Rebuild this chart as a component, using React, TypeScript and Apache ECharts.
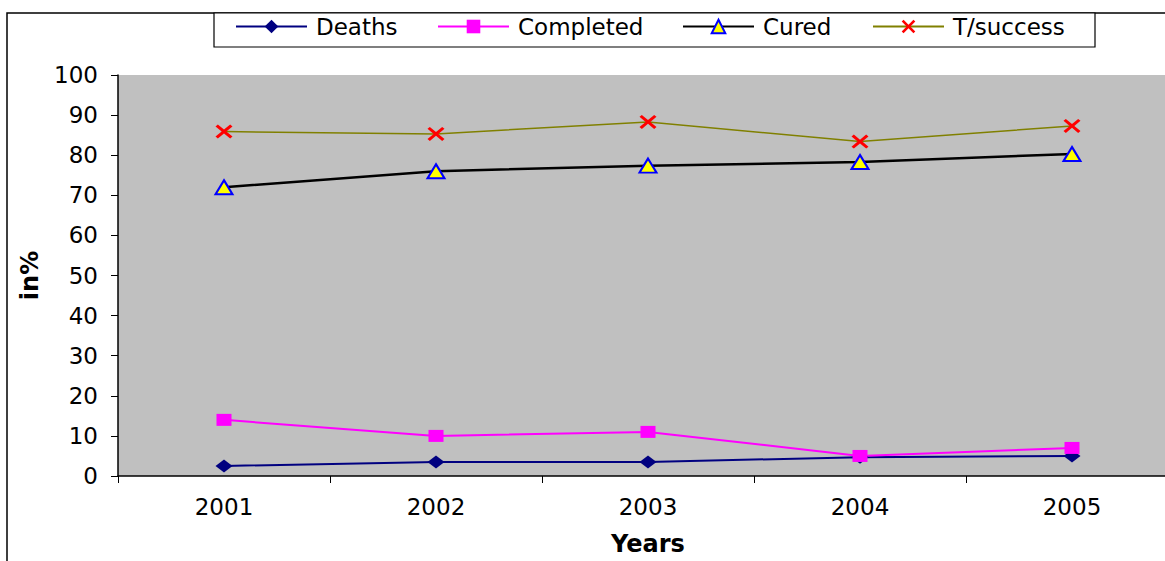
import React, { useEffect, useRef } from "react";
import * as echarts from "echarts";

const years = ["2001", "2002", "2003", "2004", "2005"];
const deaths = [2.5, 3.5, 3.5, 4.7, 5.0];
const completed = [14, 10, 11, 5, 7];
const cured = [72, 76, 77.4, 78.3, 80.3];
const tsuccess = [85.9, 85.3, 88.3, 83.4, 87.3];
const seriesNames = ["Deaths", "Completed", "Cured", "T/success"];
const legendLefts = [235, 437, 682, 872];

const FONT = "DejaVu Sans";
const CROSS =
  "path://M0,2.2 L2.2,0 L8,5.8 L13.8,0 L16,2.2 L10.2,8 L16,13.8 L13.8,16 L8,10.2 L2.2,16 L0,13.8 L5.8,8 Z";

export default function App() {
  const ref = useRef<HTMLDivElement>(null);
  useEffect(() => {
    if (!ref.current) return;
    const chart = echarts.init(ref.current, undefined, { renderer: "svg" });
    chart.setOption({
      animation: false,
      backgroundColor: "#ffffff",
      graphic: [
        {
          type: "rect",
          z: -10,
          shape: { x: 7, y: 13, width: 1400, height: 800 },
          style: { fill: "none", stroke: "#000", lineWidth: 1.5 },
        },
        {
          type: "rect",
          z: -5,
          shape: { x: 214, y: 13, width: 881, height: 34 },
          style: { fill: "#fff", stroke: "#000", lineWidth: 1.2 },
        },
      ],
      legend: seriesNames.map((n, i) => ({
        left: legendLefts[i],
        top: 15,
        padding: 0,
        itemWidth: 71,
        itemHeight: 17,
        textStyle: {
          fontFamily: FONT,
          fontSize: 23,
          color: "#000",
          padding: [0, 0, 0, 4],
        },
        data: [n],
      })),
      grid: {
        left: 118,
        top: 75,
        width: 1060,
        height: 402,
        show: true,
        backgroundColor: "#c0c0c0",
        borderWidth: 0,
        containLabel: false,
      },
      xAxis: {
        type: "category",
        data: years,
        boundaryGap: true,
        name: "Years",
        nameLocation: "middle",
        nameGap: 56,
        nameTextStyle: { fontFamily: FONT, fontSize: 24, fontWeight: "bold", color: "#000" },
        axisLine: { show: true, lineStyle: { color: "#000", width: 1.5 } },
        axisTick: { show: true, alignWithLabel: false, length: 7, lineStyle: { color: "#000" } },
        axisLabel: { fontFamily: FONT, fontSize: 23, color: "#000", margin: 19 },
        splitLine: { show: false },
      },
      yAxis: {
        type: "value",
        min: 0,
        max: 100,
        interval: 10,
        name: "in%",
        nameLocation: "middle",
        nameGap: 76,
        nameTextStyle: { fontFamily: FONT, fontSize: 24, fontWeight: "bold", color: "#000" },
        axisLine: { show: true, lineStyle: { color: "#000", width: 1.5 } },
        axisTick: { show: true, length: 7, lineStyle: { color: "#000" } },
        axisLabel: { fontFamily: FONT, fontSize: 23, color: "#000", margin: 20 },
        splitLine: { show: false },
      },
      series: [
        {
          name: "Deaths",
          type: "line",
          data: deaths,
          symbol: "diamond",
          symbolSize: [17, 13],
          itemStyle: { color: "#000080" },
          lineStyle: { color: "#000080", width: 2 },
        },
        {
          name: "Completed",
          type: "line",
          data: completed,
          symbol: "rect",
          symbolSize: [15, 12],
          itemStyle: { color: "#ff00ff" },
          lineStyle: { color: "#ff00ff", width: 2 },
        },
        {
          name: "Cured",
          type: "line",
          data: cured,
          symbol: "triangle",
          symbolSize: [17, 14],
          itemStyle: { color: "#ffff00", borderColor: "#0000ff", borderWidth: 2 },
          lineStyle: { color: "#000", width: 2.5 },
        },
        {
          name: "T/success",
          type: "line",
          data: tsuccess,
          symbol: CROSS,
          symbolSize: [17, 14],
          itemStyle: { color: "#ff0000" },
          lineStyle: { color: "#808000", width: 1.5 },
        },
      ],
    });
    return () => chart.dispose();
  }, []);
  return (
    <div
      style={{
        position: "fixed",
        left: 0,
        top: 0,
        width: 1165,
        height: 561,
        overflow: "hidden",
        background: "#fff",
      }}
    >
      <div ref={ref} style={{ width: 1200, height: 561 }} />
    </div>
  );
}
